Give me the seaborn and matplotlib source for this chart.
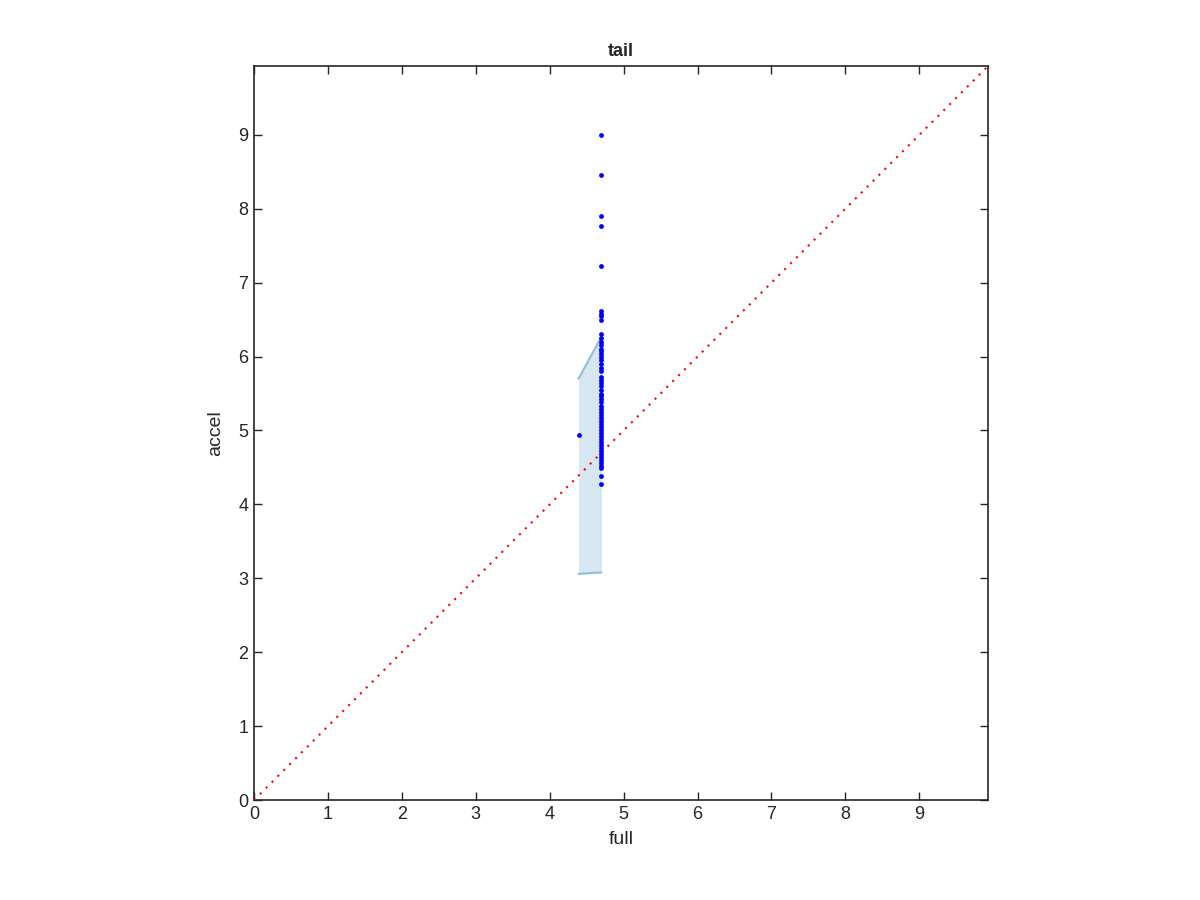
import numpy as np
import pandas as pd
import matplotlib
matplotlib.use("Agg")
import matplotlib.pyplot as plt
import seaborn as sns

# data
full_main = 4.70
accel_main = [9.00, 8.46, 7.90, 7.77, 7.23, 6.61, 6.58, 6.55, 6.50, 6.30, 6.25,
              6.20, 6.15, 6.10, 6.07, 6.04, 6.00, 5.95, 5.90, 5.85, 5.80, 5.73,
              5.68, 5.64, 5.60, 5.55, 5.50, 5.46, 5.42, 5.38, 5.33, 5.29, 5.25,
              5.21, 5.17, 5.13, 5.09, 5.05, 5.01, 4.97, 4.93, 4.88, 4.84, 4.80,
              4.76, 4.72, 4.68, 4.64, 4.60, 4.56, 4.52, 4.49, 4.38, 4.27]
full_outlier = [4.39]
accel_outlier = [4.94]

band_x = [4.39, 4.70]
band_upper = [5.70, 6.27]
band_lower = [3.06, 3.08]

diag = [0, 10]
lim = 9.93
ticks = list(range(10))

sns.set_style("white")
plt.rcParams["font.family"] = ["Liberation Sans", "DejaVu Sans"]

df = pd.DataFrame({
    "full": [full_main] * len(accel_main) + full_outlier,
    "accel": accel_main + accel_outlier,
})

fig = plt.figure(figsize=(12, 9), dpi=100)
ax = fig.add_axes([0.2117, 0.111, 0.6117, 0.8156])

ax.fill_between(band_x, band_lower, band_upper, color="#d7e7f2", lw=0, zorder=1)
ax.plot(band_x, band_upper, color="#8fbde0", lw=1.5, zorder=2)
ax.plot(band_x, band_lower, color="#8fbde0", lw=1.5, zorder=2)

sns.lineplot(x=diag, y=diag, ax=ax, color="red", linestyle=(0, (1, 3)), lw=1.5, zorder=3)
sns.scatterplot(data=df, x="full", y="accel", ax=ax, color="blue", s=12,
                edgecolor="blue", linewidth=0, zorder=4)

ax.set_xlim(0, lim)
ax.set_ylim(0, lim)
ax.set_xticks(ticks)
ax.set_yticks(ticks)
ax.tick_params(direction="in", length=6, width=1, top=True, right=True,
               bottom=True, left=True, labelsize=13, colors="#262626", pad=4)
for s in ax.spines.values():
    s.set_color("#262626")
    s.set_linewidth(1.2)
ax.set_xlabel("full", fontsize=14, color="#262626", labelpad=6)
ax.set_ylabel("accel", fontsize=14, color="#262626", labelpad=10)
ax.set_title("tail", fontsize=13, fontweight="bold", pad=7)

fig.savefig("out.png", dpi=100)
